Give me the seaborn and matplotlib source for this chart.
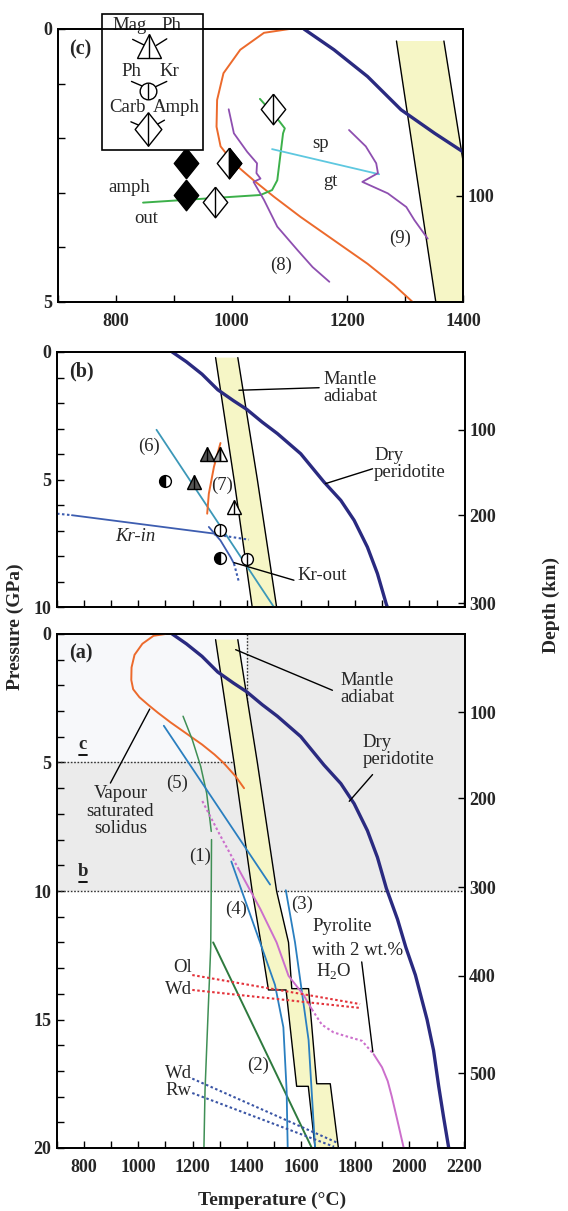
import numpy as np
import matplotlib
matplotlib.use("Agg")
import matplotlib.pyplot as plt
import matplotlib.patches as mpatches
import seaborn as sns

sns.set_theme(style="white")
plt.rcParams["font.family"] = ["Liberation Serif", "DejaVu Serif"]
plt.rcParams["mathtext.fontset"] = "custom"
plt.rcParams["mathtext.rm"] = "Liberation Serif"
plt.rcParams["mathtext.bf"] = "Liberation Serif:bold"

# ---- data (temperature in degC, pressure in GPa) ----
ADIABAT_LEFT_T = [1285, 1353, 1420, 1452, 1480, 1545, 1584, 1627, 1652]
ADIABAT_LEFT_P = [0.22, 5.0, 10.0, 12.0, 13.85, 13.85, 17.6, 17.6, 20.0]
ADIABAT_RIGHT_T = [1367, 1439, 1510, 1554, 1566, 1628, 1658, 1708, 1738]
ADIABAT_RIGHT_P = [0.22, 5.0, 10.0, 12.0, 13.8, 13.8, 17.5, 17.5, 20.0]

DRY_T = [1125, 1177, 1235, 1293, 1351, 1400, 1457, 1513, 1599, 1685, 1747, 1796,
         1845, 1882, 1915, 1956, 1987, 2022, 2065, 2089, 2108, 2126, 2145]
DRY_P = [0.0, 0.38, 0.87, 1.48, 1.91, 2.25, 2.75, 3.2, 3.99, 5.1, 5.82, 6.6,
         7.65, 8.69, 9.9, 11.1, 12.2, 13.27, 15.0, 16.2, 17.6, 18.8, 20.0]

VAPOUR_T = [1100, 1056, 1015, 986, 975, 974, 981, 1004, 1038, 1073, 1119, 1177, 1235, 1281, 1313, 1359, 1390]
VAPOUR_P = [0.0, 0.07, 0.38, 0.81, 1.3, 1.79, 2.15, 2.46, 2.77, 3.07, 3.44, 3.87, 4.3, 4.69, 5.0, 5.54, 6.0]

# panel (a)
C1A_T = [1165, 1199, 1230, 1252, 1264, 1269]
C1A_P = [3.2, 4.11, 5.15, 6.19, 7.22, 7.68]
C1B_T = [1270, 1269, 1267, 1258, 1246, 1242]
C1B_P = [8.0, 9.82, 12.2, 14.55, 17.76, 20.0]
C2_T = [1276, 1440, 1640]
C2_P = [12.0, 15.6, 20.0]
C3_T = [1544, 1578, 1603, 1628, 1652]
C3_P = [9.97, 12.0, 13.9, 15.8, 20.0]
C4_T = [1343, 1449, 1504, 1535, 1547, 1551]
C4_P = [8.85, 12.0, 13.65, 15.3, 17.75, 20.0]
C5_T = [1094, 1486]
C5_P = [3.57, 9.75]
PYRO_DOT1_T = [1236, 1300, 1371]
PYRO_DOT1_P = [6.5, 7.8, 9.17]
PYRO_SOL1_T = [1371, 1450, 1510, 1554, 1609, 1640]
PYRO_SOL1_P = [9.17, 10.7, 12.0, 13.3, 14.04, 14.6]
PYRO_DOT2_T = [1640, 1677, 1720, 1763, 1825, 1868]
PYRO_DOT2_P = [14.6, 15.2, 15.5, 15.64, 15.83, 16.35]
PYRO_SOL2_T = [1868, 1899, 1920, 1935, 1955, 1979]
PYRO_SOL2_P = [16.35, 16.86, 17.4, 18.0, 18.9, 20.0]
OL_T, OL_P = [1199, 1818], [13.27, 14.4]
WD1_T, WD1_P = [1199, 1818], [13.85, 14.55]
WD2_T, WD2_P = [1199, 1735], [17.3, 19.8]
RW_T, RW_P = [1199, 1722], [17.86, 19.95]

# panel (b)
C6_T, C6_P = [1067, 1500], [3.05, 10.0]
C7_T = [1303, 1279, 1260, 1254]
C7_P = [3.57, 4.5, 5.56, 6.34]
KRIN_DOT1_T, KRIN_DOT1_P = [700, 755], [6.34, 6.4]
KRIN_T, KRIN_P = [755, 1279], [6.4, 7.12]
KRIN_DOT2_T, KRIN_DOT2_P = [1279, 1408], [7.15, 7.36]
KROUT_T = [1260, 1303, 1340, 1353]
KROUT_P = [6.86, 7.39, 8.04, 8.3]
KROUT_DOT_T, KROUT_DOT_P = [1353, 1371], [8.3, 9.02]
CIRC_HALF_T, CIRC_HALF_P = [1097, 1303], [5.07, 8.07]
CIRC_OPEN_T, CIRC_OPEN_P = [1301, 1402], [6.99, 8.1]
TRI_FULL_T, TRI_FULL_P = [1205, 1254], [5.1, 4.0]
TRI_HALF_T, TRI_HALF_P = [1303], [4.0]
TRI_OPEN_T, TRI_OPEN_P = [1353], [6.08]

# panel (c)
AMPH_T = [847, 1050, 1070, 1079, 1089, 1092, 1076, 1049]
AMPH_P = [3.18, 3.04, 2.95, 2.77, 1.91, 1.82, 1.6, 1.28]
SPGT_T, SPGT_P = [1070, 1255], [2.2, 2.66]
C8_T = [995, 1004, 1027, 1044, 1043, 1050, 1038, 1056, 1079, 1114, 1140, 1169]
C8_P = [1.47, 1.91, 2.25, 2.46, 2.64, 2.74, 2.8, 3.13, 3.62, 4.05, 4.36, 4.63]
C9_T = [1203, 1232, 1250, 1253, 1226, 1270, 1302, 1316, 1339]
C9_P = [1.85, 2.15, 2.46, 2.64, 2.8, 3.01, 3.26, 3.5, 3.84]
DIA_FULL_T, DIA_FULL_P = [921, 921], [2.46, 3.04]
DIA_HALF_T, DIA_HALF_P = [996], [2.46]
DIA_OPEN_T, DIA_OPEN_P = [972, 1072], [3.16, 1.46]

DEPTH_KM = [100, 200, 300, 400, 500]
DEPTH_P = [3.05, 6.4, 9.85, 13.3, 17.1]

# ---- styles ----
NAVY = "#2a2a80"
ORANGE = "#ec6a2c"
BAND = "#f6f6c6"
GREEN1 = "#3f8f55"
GREEN2 = "#2e7a3e"
GREEN3 = "#3cb04a"
BLUE = "#2a7fc0"
TEAL = "#3c98b8"
KRBLUE = "#3d5db0"
PURPLE = "#8e4fb0"
CYAN = "#5ec8e0"
MAGENTA = "#cc6fcc"
RED = "#e3333a"
DBLUE = "#3a55a5"
DOT = (0, (1.2, 1.2))
FS = 13.5

DIAMOND = [(0, 1), (0.8, 0), (0, -1), (-0.8, 0), (0, 1)]
DIAMOND_R = [(0, 1), (0.8, 0), (0, -1), (0, 1)]

W, H = 568, 1211
fig = plt.figure(figsize=(W / 100, H / 100), dpi=100)


def px_axes(left, top, right, bottom):
    return fig.add_axes([left / W, 1 - bottom / H, (right - left) / W, (bottom - top) / H])


def curve(ax, t, p, color, lw=1.3, ls="-", z=3):
    sns.lineplot(x=t, y=p, sort=False, estimator=None, color=color,
                 linewidth=lw, linestyle=ls, ax=ax, zorder=z)


def leader(ax, t, p):
    ax.plot(t, p, color="black", lw=1.0, zorder=5, clip_on=False)


def symbol(ax, t, p, marker, ms, face="white", half=None, alt="white", divider=True):
    if half:
        ax.plot(t, p, ls="none", marker=marker, ms=ms, fillstyle=half, mfc=face,
                mfcalt=alt, mec="black", mew=1.0, zorder=6, clip_on=False)
    else:
        ax.plot(t, p, ls="none", marker=marker, ms=ms, mfc=face, mec="black",
                mew=1.0, zorder=6, clip_on=False)
    if divider:
        ax.plot(t, p, ls="none", marker="|", ms=ms, mec="black", mew=1.0, zorder=7,
                clip_on=False)


def diamond(ax, t, p, ms, face="white", right_black=False, divider=True):
    ax.plot(t, p, ls="none", marker=DIAMOND, ms=ms, mfc=face, mec="black", mew=1.0,
            zorder=6, clip_on=False)
    if right_black:
        ax.plot(t, p, ls="none", marker=DIAMOND_R, ms=ms, mfc="black", mec="black",
                mew=1.0, zorder=6, clip_on=False)
    if divider:
        ax.plot(t, p, ls="none", marker="|", ms=ms, mec="black", mew=1.0, zorder=7,
                clip_on=False)


def common(ax):
    poly_t = ADIABAT_LEFT_T + ADIABAT_RIGHT_T[::-1]
    poly_p = ADIABAT_LEFT_P + ADIABAT_RIGHT_P[::-1]
    ax.fill(poly_t, poly_p, color=BAND, lw=0, zorder=2)
    ax.plot(ADIABAT_LEFT_T, ADIABAT_LEFT_P, color="black", lw=1.0, zorder=2.5)
    ax.plot(ADIABAT_RIGHT_T, ADIABAT_RIGHT_P, color="black", lw=1.0, zorder=2.5)
    curve(ax, DRY_T, DRY_P, NAVY, lw=2.4, z=4)


def style(ax, xlim, ymax, xlabels, xmajor):
    ax.set_xlim(*xlim)
    ax.set_ylim(ymax, 0)
    ax.set_xlabel("")
    ax.set_ylabel("")
    for s in ax.spines.values():
        s.set_linewidth(1.3)
        s.set_color("black")
    yt = list(range(0, ymax + 1, 5))
    ax.set_yticks(yt, labels=[str(v) for v in yt], fontweight="bold", fontsize=13)
    ax.set_yticks(range(0, ymax + 1), minor=True)
    if xlabels:
        ax.set_xticks(xmajor, labels=[str(v) for v in xmajor], fontweight="bold", fontsize=13)
    else:
        ax.set_xticks(xmajor, labels=[])
    ax.set_xticks(range(int(xlim[0]), int(xlim[1]) + 1, 100), minor=True)
    ax.tick_params(which="both", direction="in", length=5, width=1.0, color="black",
                   left=True, bottom=True, top=False, right=False)
    ax.tick_params(axis="x", pad=8)
    ax.tick_params(axis="y", pad=4)
    tw = ax.twinx()
    tw.set_ylim(ymax, 0)
    sel = [i for i, p in enumerate(DEPTH_P) if p <= ymax]
    tw.set_yticks([DEPTH_P[i] for i in sel], labels=[str(DEPTH_KM[i]) for i in sel],
                  fontweight="bold", fontsize=13)
    tw.tick_params(direction="in", length=5, width=1.0, color="black", pad=3, right=True)
    tw.grid(False)
    for s in tw.spines.values():
        s.set_linewidth(1.3)
        s.set_color("black")
    ax.grid(False)


def txt(ax, t, p, s, ha="center", va="center", **kw):
    ax.text(t, p, s, ha=ha, va=va, fontsize=kw.pop("fontsize", FS), zorder=8, **kw)


# ---------------- panel (c) ----------------
axc = px_axes(58, 29, 463, 302)
common(axc)
curve(axc, VAPOUR_T, VAPOUR_P, ORANGE, lw=1.4)
curve(axc, AMPH_T, AMPH_P, GREEN3, lw=1.4)
curve(axc, SPGT_T, SPGT_P, CYAN, lw=1.3)
curve(axc, C8_T, C8_P, PURPLE, lw=1.3)
curve(axc, C9_T, C9_P, PURPLE, lw=1.3)
diamond(axc, DIA_FULL_T, DIA_FULL_P, 22, face="black", divider=False)
diamond(axc, DIA_HALF_T, DIA_HALF_P, 22, right_black=True)
diamond(axc, DIA_OPEN_T, DIA_OPEN_P, 22)
style(axc, (700, 1400), 5, True, [800, 1000, 1200, 1400])
txt(axc, 720, 0.37, "(c)", ha="left", fontweight="bold", fontsize=14.5)
txt(axc, 1154, 2.09, "sp")
txt(axc, 1171, 2.8, "gt")
txt(axc, 823, 2.9, "amph")
txt(axc, 853, 3.47, "out")
txt(axc, 1085, 4.33, "(8)")
txt(axc, 1292, 3.84, "(9)")

# legend box
axc.add_patch(mpatches.Rectangle((776, -0.28), 174, 2.5, facecolor="white",
                                 edgecolor="black", lw=1.2, zorder=9, clip_on=False))
for t, p, s in [(823, -0.07, "Mag"), (896, -0.07, "Ph"), (826, 0.77, "Ph"),
                (893, 0.77, "Kr"), (820, 1.43, "Carb"), (905, 1.43, "Amph")]:
    axc.text(t, p, s, ha="center", va="center", fontsize=FS, zorder=10, clip_on=False)
for tt, pp in [([829, 852], [0.19, 0.31]), ([888, 870], [0.18, 0.30]),
               ([827, 849], [0.96, 1.06]), ([888, 868], [0.96, 1.06]),
               ([826, 846], [1.70, 1.79]), ([884, 866], [1.67, 1.78])]:
    axc.plot(tt, pp, color="black", lw=1.0, zorder=10, clip_on=False)
axc.plot([858], [0.32], ls="none", marker="^", ms=17, mfc="white", mec="black",
         mew=1.0, zorder=10, clip_on=False)
axc.plot([858], [0.32], ls="none", marker="|", ms=17, mec="black", mew=1.0,
         zorder=11, clip_on=False)
axc.plot([855], [1.13], ls="none", marker="o", ms=12, mfc="white", mec="black",
         mew=1.0, zorder=10, clip_on=False)
axc.plot([855], [1.13], ls="none", marker="|", ms=12, mec="black", mew=1.0,
         zorder=11, clip_on=False)
axc.plot([855], [1.84], ls="none", marker=DIAMOND, ms=24, mfc="white", mec="black",
         mew=1.0, zorder=10, clip_on=False)
axc.plot([855], [1.84], ls="none", marker="|", ms=24, mec="black", mew=1.0,
         zorder=11, clip_on=False)

# ---------------- panel (b) ----------------
axb = px_axes(57, 352, 465, 607)
common(axb)
curve(axb, C6_T, C6_P, TEAL, lw=1.3)
curve(axb, C7_T, C7_P, ORANGE, lw=1.4)
curve(axb, KRIN_T, KRIN_P, KRBLUE, lw=1.3)
curve(axb, KRIN_DOT1_T, KRIN_DOT1_P, KRBLUE, lw=1.5, ls=DOT)
curve(axb, KRIN_DOT2_T, KRIN_DOT2_P, KRBLUE, lw=1.5, ls=DOT)
curve(axb, KROUT_T, KROUT_P, KRBLUE, lw=1.3)
curve(axb, KROUT_DOT_T, KROUT_DOT_P, KRBLUE, lw=1.5, ls=DOT)
symbol(axb, CIRC_HALF_T, CIRC_HALF_P, "o", 8.5, face="black", half="left", divider=False)
symbol(axb, CIRC_OPEN_T, CIRC_OPEN_P, "o", 8.5)
symbol(axb, TRI_FULL_T, TRI_FULL_P, "^", 10.5, face="#555555")
symbol(axb, TRI_HALF_T, TRI_HALF_P, "^", 10.5, face="#a0a0a0", half="left")
symbol(axb, TRI_OPEN_T, TRI_OPEN_P, "^", 10.5)
leader(axb, [1371, 1667], [1.5, 1.4])
leader(axb, [1691, 1864], [5.16, 4.58])
leader(axb, [1353, 1574], [8.26, 8.95])
style(axb, (700, 2205), 10, False, list(range(800, 2201, 100)))
txt(axb, 743, 0.78, "(b)", ha="left", fontweight="bold", fontsize=14.5)
txt(axb, 1683, 1.4, "Mantle\nadiabat", ha="left", linespacing=1.0)
txt(axb, 1870, 4.38, "Dry\nperidotite", ha="left", linespacing=1.0)
txt(axb, 1039, 3.7, "(6)")
txt(axb, 1310, 5.23, "(7)")
txt(axb, 989, 7.25, "Kr-in", fontstyle="italic")
txt(axb, 1587, 8.76, "Kr-out", ha="left")

# ---------------- panel (a) ----------------
axa = px_axes(57, 634, 465, 1148)
axa.axhspan(0, 10, color="#ebebeb", lw=0, zorder=0)
axa.fill_between([700, 1400], 0, 5, color="#f7f8fa", lw=0, zorder=0.5)
axa.plot([700, 1400], [5, 5], color="#333333", lw=1.0, ls=DOT, zorder=1)
axa.plot([1400, 1400], [0, 5], color="#333333", lw=1.0, ls=DOT, zorder=1)
axa.plot([700, 2205], [10, 10], color="#333333", lw=1.0, ls=DOT, zorder=1)
common(axa)
curve(axa, VAPOUR_T, VAPOUR_P, ORANGE, lw=1.4)
curve(axa, C1A_T, C1A_P, GREEN1, lw=1.1)
curve(axa, C1B_T, C1B_P, GREEN1, lw=1.1)
curve(axa, C2_T, C2_P, GREEN2, lw=1.4)
curve(axa, C3_T, C3_P, BLUE, lw=1.3)
curve(axa, C4_T, C4_P, BLUE, lw=1.3)
curve(axa, C5_T, C5_P, BLUE, lw=1.3)
curve(axa, PYRO_DOT1_T, PYRO_DOT1_P, MAGENTA, lw=1.5, ls=DOT)
curve(axa, PYRO_SOL1_T, PYRO_SOL1_P, MAGENTA, lw=1.4)
curve(axa, PYRO_DOT2_T, PYRO_DOT2_P, MAGENTA, lw=1.5, ls=DOT)
curve(axa, PYRO_SOL2_T, PYRO_SOL2_P, MAGENTA, lw=1.4)
curve(axa, OL_T, OL_P, RED, lw=1.5, ls=DOT)
curve(axa, WD1_T, WD1_P, RED, lw=1.5, ls=DOT)
curve(axa, WD2_T, WD2_P, DBLUE, lw=1.5, ls=DOT)
curve(axa, RW_T, RW_P, DBLUE, lw=1.5, ls=DOT)
leader(axa, [1359, 1716], [0.61, 2.19])
leader(axa, [1778, 1864], [6.51, 5.47])
leader(axa, [1042, 897], [2.92, 5.8])
leader(axa, [1824, 1865], [12.76, 16.26])
style(axa, (700, 2205), 20, True, list(range(800, 2201, 200)))
txt(axa, 743, 0.74, "(a)", ha="left", fontweight="bold", fontsize=14.5)
txt(axa, 1744, 2.14, "Mantle\nadiabat", ha="left", linespacing=1.0)
txt(axa, 1827, 4.57, "Dry\nperidotite", ha="left", linespacing=1.0)
txt(axa, 934, 6.9, "Vapour\nsaturated\nsolidus", linespacing=1.05)
txt(axa, 795, 4.3, "c", fontweight="bold")
txt(axa, 795, 9.23, "b", fontweight="bold")
axa.plot([780, 812], [4.72, 4.72], color="black", lw=1.3, zorder=8)
axa.plot([780, 812], [9.65, 9.65], color="black", lw=1.3, zorder=8)
txt(axa, 1143, 5.8, "(5)")
txt(axa, 1226, 8.65, "(1)")
txt(axa, 1359, 10.73, "(4)")
txt(axa, 1605, 10.53, "(3)")
txt(axa, 1642, 11.37, "Pyrolite", ha="left")
txt(axa, 1642, 12.31, "with 2 wt.%", ha="left")
txt(axa, 1655, 13.14, r"H$_\mathregular{2}$O", ha="left")
txt(axa, 1197, 12.99, "Ol", ha="right")
txt(axa, 1197, 13.82, "Wd", ha="right")
txt(axa, 1443, 16.8, "(2)")
txt(axa, 1197, 17.1, "Wd", ha="right")
txt(axa, 1197, 17.78, "Rw", ha="right")

fig.text(15 / W, 1 - 627 / H, "Pressure (GPa)", rotation=90, ha="center", va="center",
         fontsize=14, fontweight="bold")
fig.text(551 / W, 1 - 605 / H, "Depth (km)", rotation=90, ha="center", va="center",
         fontsize=14, fontweight="bold")
fig.text(272 / W, 1 - 1200 / H, "Temperature (°C)", ha="center", va="center",
         fontsize=14, fontweight="bold")

fig.savefig("out.png", dpi=100)
